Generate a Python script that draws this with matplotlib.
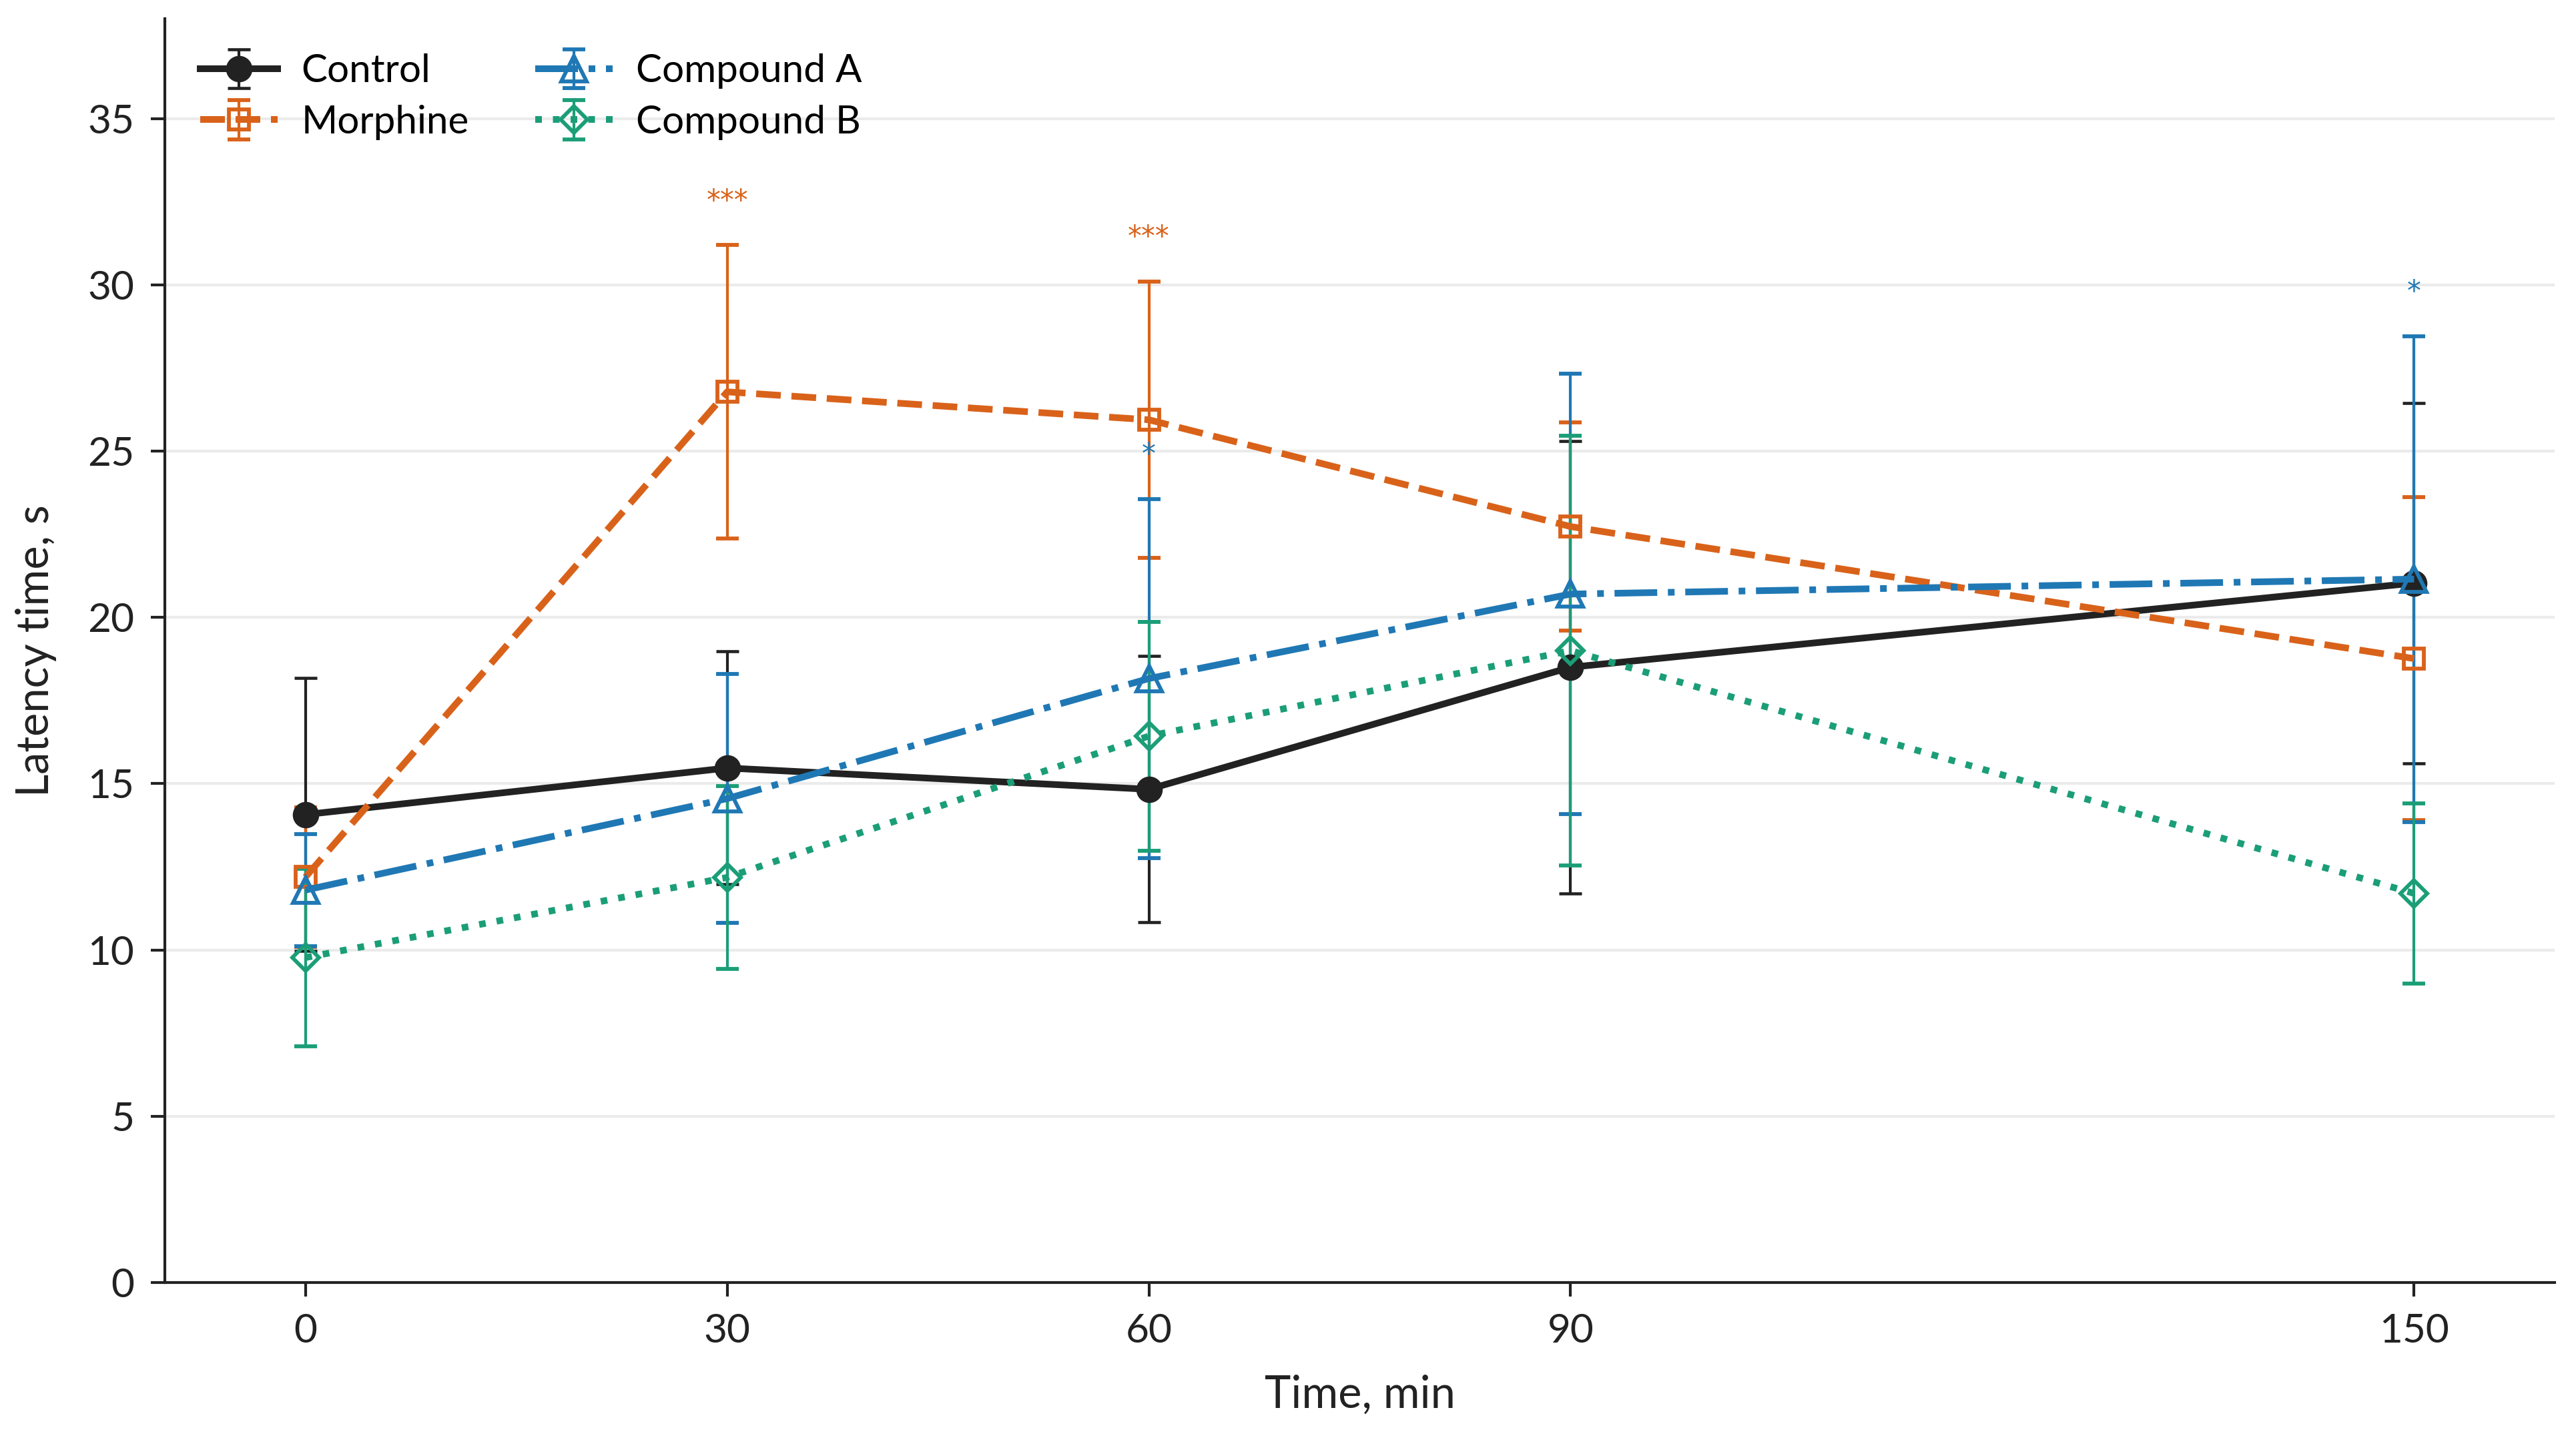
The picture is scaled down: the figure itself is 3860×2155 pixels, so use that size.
import matplotlib
matplotlib.use("Agg")
import matplotlib.pyplot as plt

plt.rcParams['font.family'] = ['Lato', 'DejaVu Sans']

# ---- data ----
time_min = [0, 30, 60, 90, 150]
series_names = ["Control", "Morphine", "Compound A", "Compound B"]

control_mean = [14.07, 15.47, 14.83, 18.50, 21.03]
control_err = [4.10, 3.50, 4.00, 6.80, 5.42]

morphine_mean = [12.19, 26.78, 25.94, 22.73, 18.76]
morphine_err = [2.10, 4.41, 4.16, 3.13, 4.86]

compA_mean = [11.80, 14.55, 18.16, 20.70, 21.15]
compA_err = [1.68, 3.74, 5.40, 6.62, 7.30]

compB_mean = [9.77, 12.18, 16.43, 19.00, 11.70]
compB_err = [2.66, 2.75, 3.44, 6.46, 2.71]

morphine_sig = ["", "***", "***", "", ""]
compA_sig = ["", "", "*", "", "*"]

y_ticks = [0, 5, 10, 15, 20, 25, 30, 35]

# ---- styles ----
c_ctrl = "#222222"
c_morph = "#D9621A"
c_a = "#1F78B4"
c_b = "#1B9E77"

W, H, DPI = 3860, 2155, 300
fig = plt.figure(figsize=(W / DPI, H / DPI), dpi=DPI)
ax = fig.add_axes([247 / W, 1 - 1922 / H, (3828 - 247) / W, (1922 - 28) / H])

common = dict(capsize=4, elinewidth=1.0, capthick=1.1, lw=2.4)

ax.errorbar(time_min, control_mean, yerr=control_err, color=c_ctrl, ls='-',
            marker='o', ms=8.5, mfc=c_ctrl, mec=c_ctrl, label=series_names[0], **common)
ax.errorbar(time_min, morphine_mean, yerr=morphine_err, color=c_morph, ls='--',
            marker='s', ms=7, mfc='none', mec=c_morph, mew=1.4, label=series_names[1], **common)
ax.errorbar(time_min, compA_mean, yerr=compA_err, color=c_a, ls='-.',
            marker='^', ms=9, mfc='none', mec=c_a, mew=1.4, label=series_names[2], **common)
ax.errorbar(time_min, compB_mean, yerr=compB_err, color=c_b, ls=':',
            marker='D', ms=6.8, mfc='none', mec=c_b, mew=1.4, label=series_names[3], **common)

# significance markers
for x, m, e, s in zip(time_min, morphine_mean, morphine_err, morphine_sig):
    if s:
        ax.text(x, m + e + 0.9, s, color=c_morph, ha='center', va='bottom',
                fontsize=10, family='DejaVu Sans')
for x, m, e, s in zip(time_min, compA_mean, compA_err, compA_sig):
    if s:
        ax.text(x, m + e + 0.9, s, color=c_a, ha='center', va='bottom',
                fontsize=10, family='DejaVu Sans')

ax.set_xlim(-10, 160)
ax.set_ylim(0, 38)
ax.set_xticks(time_min)
ax.set_xticklabels([str(t) for t in time_min])
ax.set_yticks(y_ticks)
ax.tick_params(axis='both', labelsize=14.5, length=5, width=1.0, color='#222222',
               labelcolor='#222222', pad=6)
ax.yaxis.grid(True, color='#ebebeb', lw=1.0)
ax.set_axisbelow(True)
for side in ['top', 'right']:
    ax.spines[side].set_visible(False)
for side in ['left', 'bottom']:
    ax.spines[side].set_linewidth(1.0)
    ax.spines[side].set_color('#222222')

ax.set_xlabel("Time, min", fontsize=16, color='#222222', labelpad=9)
ax.set_ylabel("Latency time, s", fontsize=16, color='#222222', labelpad=11)

ax.legend(loc='upper left', ncol=2, frameon=False, fontsize=14,
          handlelength=2.0, handletextpad=0.6, columnspacing=1.7, labelspacing=0.4)

fig.savefig("out.png", dpi=DPI)
